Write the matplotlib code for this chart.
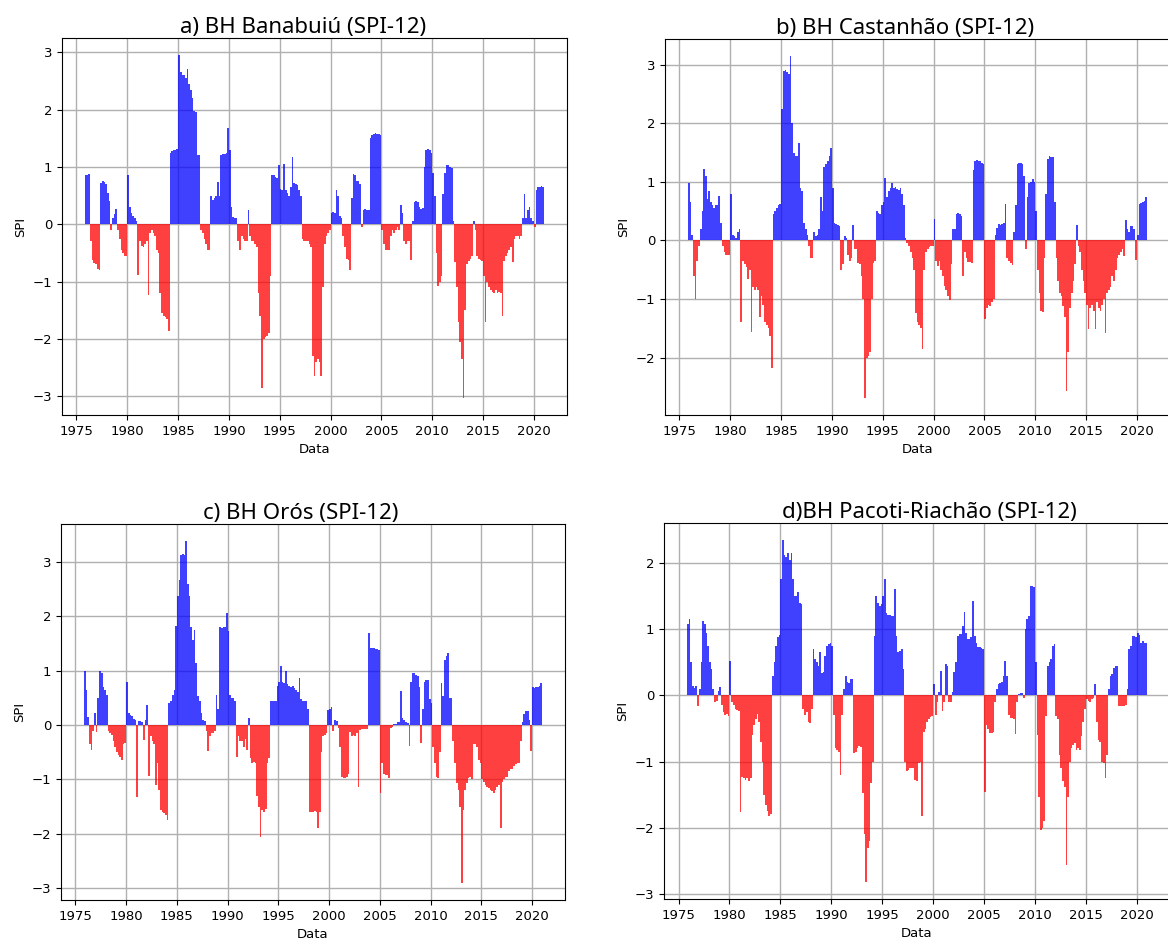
import numpy as np
import matplotlib
matplotlib.use("Agg")
import matplotlib.pyplot as plt
from matplotlib.ticker import MultipleLocator

# SPI-12 bimestral, a partir de nov/dez 1975 (uma linha por ano)
banabuiu = [
    0.85,
    0.85, 0.88, -0.3, -0.62, -0.68, -0.7,
    -0.78, -0.8, 0.72, 0.76, 0.74, 0.7,
    0.55, 0.4, -0.1, 0.1, 0.18, 0.27,
    -0.1, -0.25, -0.45, -0.5, -0.55, -0.55,
    0.85, 0.3, 0.2, 0.15, 0.1, 0.05,
    -0.88, -0.3, -0.38, -0.4, -0.35, -0.3,
    -1.23, -0.15, -0.1, -0.15, -0.2, -0.45,
    -0.5, -1.2, -1.55, -1.6, -1.62, -1.65,
    -1.86, 1.25, 1.28, 1.3, 1.3, 1.32,
    2.95, 2.65, 2.6, 2.6, 2.55, 2.7,
    2.45, 2.35, 2.2, 1.98, 1.95, 1.2,
    1.2, -0.1, -0.15, -0.25, -0.35, -0.45,
    -0.45, 0.5, 0.42, 0.45, 0.5, 0.73,
    0.5, 1.2, 1.23, 1.23, 1.25, 1.68,
    1.3, 0.3, 0.12, 0.1, 0.1, -0.3,
    -0.45, -0.2, -0.25, -0.3, -0.3, 0.25,
    -0.2, -0.3, -0.3, -0.35, -0.4, -1.2,
    -1.6, -2.85, -2.0, -1.97, -1.95, -1.9,
    -0.9, 0.85, 0.85, 0.82, 0.8, 1.03,
    0.62, 0.6, 1.05, 0.6, 0.55, 0.5,
    0.65, 1.17, 0.72, 0.7, 0.68, 0.6,
    0.5, -0.25, -0.3, -0.3, -0.3, -0.35,
    -0.4, -2.3, -2.65, -2.4, -2.35, -2.4,
    -2.65, -1.1, -0.35, -0.2, -0.15, -0.1,
    0.2, 0.22, 0.2, 0.59, 0.5, 0.15,
    0.1, -0.2, -0.4, -0.6, -0.62, -0.8,
    0.45, 0.88, 0.85, 0.76, 0.75, 0.7,
    -0.05, 0.25, 0.27, 0.25, 0.25, 1.5,
    1.55, 1.58, 1.6, 1.58, 1.57, 1.55,
    -0.1, -0.35, -0.45, -0.45, -0.45, -0.2,
    -0.1, -0.15, -0.1, -0.05, -0.1, 0.33,
    0.2, -0.3, -0.35, -0.3, -0.3, -0.62,
    0.05, 0.38, 0.4, 0.38, 0.3, 0.27,
    0.28, 1.0, 1.3, 1.32, 1.3, 1.25,
    0.9, 0.5, -0.5, -1.07, -1.0, -0.9,
    0.53, 0.9, 1.03, 1.03, 1.0, 0.98,
    0.05, -0.66, -1.1, -1.7, -2.05, -2.35,
    -3.03, -1.5, -0.7, -0.65, -0.6, -0.55,
    0.05, -0.1, -0.55, -0.6, -0.62, -0.65,
    -0.9, -1.7, -1.0, -1.1, -1.15, -1.18,
    -1.2, -1.15, -1.2, -1.18, -1.2, -1.6,
    -0.65, -0.55, -0.5, -0.45, -0.4, -0.66,
    -0.25, -0.2, -0.2, -0.25, -0.2, 0.1,
    0.53, 0.1, 0.25, 0.3, 0.1, 0.05,
    -0.05, 0.6, 0.65, 0.65, 0.66, 0.65,
]

castanhao = [
    0.98,
    0.65, 0.1, -0.6, -1.0, -0.35, -0.1,
    0.2, 0.5, 1.22, 1.1, 0.7, 0.85,
    0.65, 0.6, 0.55, 0.6, 0.6, 0.76,
    0.3, -0.1, -0.2, -0.25, -0.25, -0.25,
    0.8, 0.1, 0.08, 0.05, 0.15, 0.2,
    -1.4, -0.35, -0.4, -0.45, -0.65, -0.5,
    -1.57, -0.8, -0.85, -0.8, -0.85, -1.3,
    -0.95, -1.1, -1.4, -1.45, -1.5, -1.63,
    -2.18, 0.45, 0.5, 0.55, 0.6, 0.62,
    2.25, 2.9, 2.92, 2.88, 2.85, 3.15,
    2.0, 1.5, 1.45, 1.45, 1.67, 0.9,
    0.85, 0.3, 0.2, 0.1, -0.1, -0.3,
    -0.3, 0.15, 0.08, 0.1, 0.2, 0.75,
    0.5, 1.25, 1.3, 1.35, 1.45, 1.58,
    0.9, 0.3, 0.28, 0.27, 0.25, -0.5,
    -0.4, 0.08, 0.05, -0.25, -0.35, -0.3,
    0.27, -0.15, -0.15, -0.38, -0.4, -0.6,
    -1.0, -2.69, -2.0, -1.98, -1.9, -1.0,
    -0.38, -0.35, 0.5, 0.47, 0.45, 0.6,
    0.65, 1.06, 0.75, 0.85, 0.9, 0.98,
    0.9, 0.92, 0.88, 0.87, 0.9, 0.8,
    0.6, 0.05, -0.05, -0.1, -0.2, -0.3,
    -0.5, -1.24, -1.4, -1.45, -1.5, -1.86,
    -0.5, -0.2, -0.15, -0.12, -0.1, -0.1,
    0.37, -0.35, -0.44, -0.35, -0.5, -0.6,
    -0.78, -0.85, -0.95, -1.02, -0.4, 0.19,
    0.19, 0.45, 0.47, 0.45, 0.42, -0.6,
    -0.2, -0.3, -0.37, -0.37, -0.38, 1.2,
    1.36, 1.37, 1.35, 1.36, 1.33, 1.3,
    -1.35, -1.15, -1.1, -1.12, -1.05, -1.0,
    0.1, 0.22, 0.28, 0.27, 0.28, 0.3,
    0.63, -0.3, -0.35, -0.38, -0.42, 0.15,
    0.6, 1.3, 1.32, 1.32, 1.3, 1.1,
    -0.15, 0.75, 0.98, 1.0, 1.05, 1.0,
    0.5, -0.5, -0.9, -1.2, -1.22, -0.3,
    0.8, 1.4, 1.45, 1.43, 1.42, 0.65,
    -0.3, -0.7, -0.9, -0.95, -1.12, -1.3,
    -2.57, -1.9, -1.15, -0.9, -0.7, -0.4,
    0.26, -0.1, -0.2, -0.5, -0.7, -0.9,
    -1.1, -1.52, -1.15, -1.1, -1.2, -1.52,
    -1.05, -1.15, -1.2, -1.1, -1.0, -1.58,
    -0.9, -0.85, -0.8, -0.6, -0.7, -0.5,
    -0.3, -0.25, -0.2, -0.15, -0.27, 0.35,
    0.2, 0.15, 0.25, 0.25, 0.2, -0.33,
    0.1, 0.62, 0.64, 0.65, 0.68, 0.75,
]

oros = [
    0.99,
    0.65, 0.15, -0.35, -0.45, -0.1, 0.22,
    -0.12, 0.5, 1.0, 0.95, 0.7, 0.65,
    0.55, -0.1, -0.15, -0.18, -0.3, -0.4,
    -0.5, -0.55, -0.58, -0.64, -0.35, -0.33,
    0.8, 0.22, 0.18, 0.16, 0.12, 0.1,
    -1.33, 0.07, 0.07, 0.05, -0.27, 0.1,
    0.36, -0.94, -0.2, -0.3, -0.35, -1.1,
    -0.7, -1.2, -1.56, -1.6, -1.62, -1.65,
    -1.74, 0.4, 0.45, 0.55, 0.65, 1.82,
    2.37, 2.67, 3.13, 3.15, 3.12, 3.38,
    2.6, 2.37, 1.8, 1.57, 1.75, 1.14,
    0.53, 0.45, 0.22, 0.1, 0.07, -0.1,
    -0.48, -0.2, -0.15, -0.15, -0.1, 0.55,
    0.3, 1.8, 1.78, 1.8, 1.8, 2.06,
    1.72, 0.55, 0.5, 0.5, 0.45, -0.58,
    -0.2, -0.3, -0.3, -0.4, -0.25, -0.45,
    0.13, -0.6, -0.7, -0.68, -0.7, -1.3,
    -1.5, -2.05, -1.56, -1.6, -1.55, -0.7,
    -0.6, 0.44, 0.44, 0.44, 0.45, 0.71,
    0.8, 1.08, 0.8, 0.78, 0.99, 0.75,
    0.72, 0.7, 0.71, 0.68, 0.65, 0.6,
    0.86, 0.47, 0.45, 0.45, 0.44, 0.3,
    -1.59, -1.6, -1.6, -1.58, -1.6, -1.9,
    -1.6, -0.5, -0.2, -0.18, -0.15, 0.28,
    0.3, 0.34, -0.1, 0.1, 0.08, -0.05,
    -0.4, -0.95, -0.97, -0.98, -0.95, -0.9,
    -0.12, -0.2, -0.18, -0.2, -0.15, -1.13,
    -0.09, -0.08, -0.08, -0.07, -0.08, 1.69,
    1.42, 1.42, 1.42, 1.4, 1.4, 1.38,
    -1.25, -0.7, -0.9, -0.92, -0.91, -0.98,
    -0.05, -0.03, 0.02, 0.02, 0.05, 0.05,
    0.62, 0.13, 0.1, 0.05, 0.04, -0.39,
    0.8, 0.96, 0.95, 0.92, 0.9, 0.7,
    -0.33, 0.3, 0.8, 0.83, 0.82, 0.47,
    0.4, -0.4, -0.7, -0.95, -0.98, -0.5,
    0.77, 0.53, 1.2, 1.26, 1.33, 0.5,
    0.5, -0.3, -0.7, -1.07, -1.2, -1.5,
    -2.9, -1.56, -1.2, -1.07, -0.98, -0.95,
    -1.0, -0.35, -0.35, -0.4, -0.64, -0.7,
    -1.0, -1.05, -1.1, -1.13, -1.15, -1.19,
    -1.22, -1.25, -1.2, -1.13, -1.1, -1.9,
    -1.05, -1.0, -0.95, -0.95, -0.85, -0.8,
    -0.8, -0.75, -0.72, -0.7, -0.7, -0.3,
    0.05, 0.2, 0.25, 0.25, 0.1, -0.48,
    0.7, 0.68, 0.7, 0.7, 0.72, 0.77,
]

pacoti = [
    1.08,
    1.15, 0.5, 0.14, 0.12, 0.15, -0.16,
    0.1, 0.5, 1.13, 1.08, 0.95, 0.75,
    0.5, 0.4, 0.1, -0.1, -0.08, 0.07,
    0.13, -0.15, -0.25, -0.3, -0.28, -0.31,
    0.52, -0.1, -0.15, -0.2, -0.22, -0.24,
    -1.76, -1.23, -1.25, -1.28, -1.25, -1.3,
    -1.25, -0.6, -0.45, -0.35, -0.28, -0.4,
    -0.7, -1.0, -1.5, -1.65, -1.75, -1.83,
    -1.8, 0.3, 0.5, 0.75, 0.88, 0.92,
    1.76, 2.35, 2.12, 2.1, 2.15, 2.05,
    2.15, 1.76, 1.5, 1.5, 1.56, 1.4,
    1.38, -0.2, -0.3, -0.25, -0.4, -0.42,
    -0.2, 0.7, 0.55, 0.5, 0.45, 0.65,
    0.34, 0.35, 0.6, 0.75, 0.78, 0.8,
    0.75, -0.3, -0.8, -0.82, -0.85, -1.2,
    -0.3, 0.1, 0.29, 0.2, 0.19, 0.25,
    0.25, -0.87, -0.85, -0.8, -0.77, -0.78,
    -1.48, -2.1, -2.82, -2.3, -2.2, -1.33,
    -1.0, 0.9, 1.51, 1.4, 1.36, 1.38,
    1.5, 1.76, 1.25, 1.22, 1.21, 1.2,
    1.2, 1.61, 0.9, 0.65, 0.68, 0.7,
    0.4, -1.0, -1.15, -1.12, -1.1, -1.1,
    -1.1, -1.28, -1.3, -1.02, -1.0, -1.83,
    -0.55, -0.5, -0.4, -0.36, -0.33, -0.31,
    0.17, -0.29, -0.1, 0.05, 0.37, -0.24,
    -0.1, 0.47, 0.45, -0.1, -0.1, 0.05,
    0.35, 0.5, 0.9, 0.93, 0.93, 1.05,
    1.26, 0.95, 0.85, 0.85, 0.88, 1.43,
    0.9, 0.8, 0.74, 0.74, 0.72, 0.7,
    -1.46, -0.45, -0.5, -0.57, -0.57, -0.55,
    -0.1, 0.1, 0.18, 0.19, 0.2, 0.3,
    0.52, 0.3, -0.3, -0.34, -0.34, -0.36,
    -0.58, -0.1, 0.02, 0.03, 0.03, -0.04,
    1.0, 1.16, 1.2, 1.66, 1.65, 1.64,
    0.5, -0.6, -1.53, -2.04, -2.0, -1.9,
    -0.31, 0.45, 0.5, 0.55, 0.75, 0.78,
    -0.31, -0.35, -0.9, -1.1, -1.3, -1.38,
    -2.57, -1.53, -1.0, -0.8, -0.75, -0.72,
    -0.82, -0.8, -0.82, -0.62, -0.4, -0.2,
    -0.05, -0.08, -0.1, -0.05, -0.04, 0.18,
    -0.4, -0.67, -0.7, -1.0, -1.02, -1.25,
    -0.9, 0.1, 0.3, 0.32, 0.42, 0.45,
    0.45, -0.16, -0.16, -0.16, -0.16, -0.15,
    0.1, 0.7, 0.75, 0.9, 0.9, 0.88,
    0.95, 0.92, 0.8, 0.82, 0.8, 0.8,
]

titulos = ["a) BH Banabuiú (SPI-12)", "b) BH Castanhão (SPI-12)",
           "c) BH Orós (SPI-12)", "d)BH Pacoti-Riachão (SPI-12)"]
series = [banabuiu, castanhao, oros, pacoti]

# posicao dos eixos em pixels: esquerda, direita, topo, base
caixas = [(62, 567, 38, 415), (665, 1170, 39, 415),
          (61, 565, 524, 900), (664, 1170, 523, 899)]
x_titulo = [0.478, 0.475, 0.476, 0.524]

W, H = 1168, 943
fig = plt.figure(figsize=(W / 100, H / 100), dpi=100)

for serie, titulo, (x0, x1, y0, y1), xt in zip(series, titulos, caixas, x_titulo):
    ax = fig.add_axes([x0 / W, (H - y1) / H, (x1 - x0) / W, (y1 - y0) / H])
    spi = np.array(serie)
    # centro de cada bimestre em anos decimais (inicio nov/1975)
    t = 1975 + 11 / 12 + np.arange(len(spi)) * 2 / 12
    cores = np.where(spi >= 0, "blue", "red")
    ax.bar(t, spi, width=2 / 12, color=cores, alpha=0.75, linewidth=0)
    ax.grid(True, color="#b0b0b0", linewidth=1)
    ax.set_axisbelow(True)
    ax.xaxis.set_major_locator(MultipleLocator(5))
    ax.yaxis.set_major_locator(MultipleLocator(1))
    ax.tick_params(labelsize=9.5)
    ax.set_xlabel("Data", fontsize=9.5)
    ax.set_ylabel("SPI", fontsize=9.5)
    ax.set_title(titulo, x=xt, fontsize=16, family="Noto Sans", pad=3)

fig.savefig("out.png", dpi=100)
